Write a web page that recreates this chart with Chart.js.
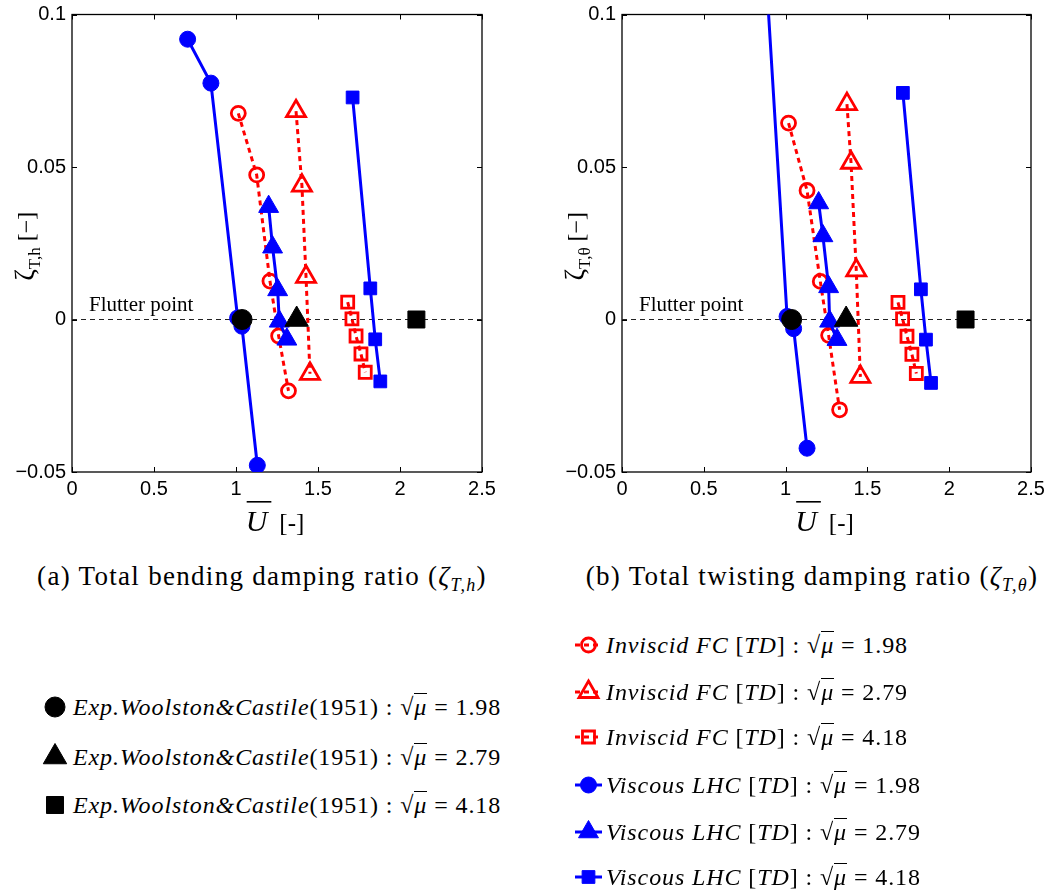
<!DOCTYPE html>
<html><head><meta charset="utf-8">
<script src="https://cdn.jsdelivr.net/npm/chart.js@4.4.1/dist/chart.umd.min.js"></script>
<style>
html,body{margin:0;padding:0;background:#fff;}
#wrap{position:relative;width:1052px;height:896px;overflow:hidden;background:#fff;}
canvas.plot{position:absolute;top:0;}
.cap{position:absolute;font-family:"Liberation Serif",serif;font-size:27px;letter-spacing:1.3px;white-space:nowrap;color:#000;transform:translateX(-50%);line-height:32px;}
.leg{position:absolute;font-family:"Liberation Serif",serif;font-size:24px;white-space:nowrap;color:#000;display:flex;align-items:center;height:26px;}
.leg canvas{display:block;}
.leg .t{margin-left:3px;letter-spacing:0.9px;}
.it{font-style:italic;}
.ov{border-top:1.5px solid #000;padding-top:0px;font-style:italic;}
</style></head>
<body><div id="wrap">
<canvas id="c1" class="plot" width="540" height="540" style="left:0px"></canvas>
<canvas id="c2" class="plot" width="502" height="540" style="left:550px"></canvas>
<div class="cap" style="left:262px;top:560px">(a) Total bending damping ratio (<span class="it">ζ</span><sub style="font-size:18px"><span class="it">T,h</span></sub>)</div>
<div class="cap" style="left:812px;top:560px">(b) Total twisting damping ratio (<span class="it">ζ</span><sub style="font-size:18px"><span class="it">T,θ</span></sub>)</div>
</div>
<script>
// ---------- tick labels ----------
const xTickValues = [0, 0.5, 1, 1.5, 2, 2.5];
const xTickLabels = ['0', '0.5', '1', '1.5', '2', '2.5'];
const yTickValues = [-0.05, 0, 0.05, 0.1];
const yTickLabels = ['\u22120.05', '0', '0.05', '0.1'];

// ---------- flutter reference line ----------
const flutterU = [0, 2.5];
const flutterZ = [0, 0];
const flutterText = 'Flutter point';

// ---------- experiments (Woolston & Castile 1951) ----------
const expU = [1.037, 1.37, 2.1];
const expZ = [0, 0, 0];

// ---------- (a) bending damping ratio ----------
const bendInv198U = [1.014, 1.126, 1.207, 1.26, 1.32];
const bendInv198Z = [0.0676, 0.0474, 0.0126, -0.0054, -0.0234];
const bendInv279U = [1.366, 1.402, 1.427, 1.451];
const bendInv279Z = [0.0683, 0.0439, 0.014, -0.0178];
const bendInv418U = [1.681, 1.707, 1.732, 1.762, 1.788];
const bendInv418Z = [0.0057, 0.0002, -0.0054, -0.0113, -0.0173];
const bendVis198U = [0.705, 0.847, 1.01, 1.036, 1.13];
const bendVis198Z = [0.0919, 0.0775, 0.0005, -0.0022, -0.0478];
const bendVis279U = [1.199, 1.223, 1.254, 1.264, 1.31];
const bendVis279Z = [0.037, 0.0237, 0.0097, -0.0006, -0.0065];
const bendVis418U = [1.711, 1.819, 1.849, 1.88];
const bendVis418Z = [0.0728, 0.0102, -0.0065, -0.0203];

// ---------- (b) twisting damping ratio ----------
const twInv198U = [1.018, 1.131, 1.212, 1.263, 1.33];
const twInv198Z = [0.0644, 0.0423, 0.0125, -0.0052, -0.0296];
const twInv279U = [1.375, 1.40, 1.432, 1.457];
const twInv279Z = [0.0706, 0.0514, 0.0161, -0.0188];
const twInv418U = [1.687, 1.715, 1.742, 1.772, 1.799];
const twInv418Z = [0.0056, 0.0002, -0.0055, -0.0114, -0.0177];
const twVis198U = [0.847, 1.009, 1.049, 1.131];
const twVis198Z = [0.143, 0.001, -0.003, -0.0422];
const twVis279U = [1.202, 1.228, 1.263, 1.269, 1.314];
const twVis279Z = [0.0382, 0.0274, 0.0107, -0.0006, -0.0066];
const twVis418U = [1.717, 1.827, 1.858, 1.889];
const twVis418Z = [0.0743, 0.0099, -0.0066, -0.0208];

// ---------- legend labels ----------
const muLabels = ['1.98', '2.79', '4.18'];

// ---------- styles ----------
const RED = '#ff0000', BLUE = '#0000ff', BLACK = '#000000';
const stInv = [
  {ps: 'circle', r: 7, color: RED, fill: 'rgba(255,255,255,0)', bw: 2.8, line: true, lw: 3, dash: [5, 4]},
  {ps: 'triangle', r: 11, color: RED, fill: 'rgba(255,255,255,0)', bw: 2.8, line: true, lw: 3, dash: [5, 4]},
  {ps: 'rect', r: 8.5, color: RED, fill: 'rgba(255,255,255,0)', bw: 2.8, line: true, lw: 3, dash: [5, 4]}
];
const stVis = [
  {ps: 'circle', r: 8, color: BLUE, fill: BLUE, bw: 1, line: true, lw: 3, dash: []},
  {ps: 'triangle', r: 11.5, color: BLUE, fill: BLUE, bw: 1, line: true, lw: 3, dash: []},
  {ps: 'rect', r: 9, color: BLUE, fill: BLUE, bw: 1, line: true, lw: 3, dash: []}
];
const stExp = [
  {ps: 'circle', r: 10, color: BLACK, fill: BLACK, bw: 1, line: false},
  {ps: 'triangle', r: 13.5, color: BLACK, fill: BLACK, bw: 1, line: false},
  {ps: 'rect', r: 12, color: BLACK, fill: BLACK, bw: 1, line: false}
];

function pts(us, zs) { return us.map((u, i) => ({x: u, y: zs[i]})); }
function ds(us, zs, st, order) {
  return {
    data: pts(us, zs), showLine: st.line, borderColor: st.color, backgroundColor: st.fill,
    borderWidth: st.line ? st.lw : 0, borderDash: st.dash || [],
    pointStyle: st.ps, pointRadius: st.r, pointBorderColor: st.color, pointBackgroundColor: st.fill,
    pointBorderWidth: st.bw, pointHoverRadius: st.r, order: order
  };
}

const TICK_FONT = {family: '"Liberation Sans", Arial, sans-serif', size: 20};
const SERIF = '"Liberation Serif", "Times New Roman", serif';

const framePlugin = {
  id: 'frame',
  beforeDatasetsDraw(chart) {
    const {ctx, chartArea: a} = chart;
    const x = chart.scales.x, y = chart.scales.y;
    ctx.save();
    ctx.strokeStyle = '#000';
    ctx.lineWidth = 1.3;
    ctx.strokeRect(a.left, a.top, a.right - a.left, a.bottom - a.top);
    const tl = 5;
    ctx.beginPath();
    xTickValues.forEach(v => {
      const p = Math.round(x.getPixelForValue(v)) + 0.5;
      ctx.moveTo(p, a.bottom); ctx.lineTo(p, a.bottom - tl);
      ctx.moveTo(p, a.top); ctx.lineTo(p, a.top + tl);
    });
    yTickValues.forEach(v => {
      const p = Math.round(y.getPixelForValue(v)) + 0.5;
      ctx.moveTo(a.left, p); ctx.lineTo(a.left + tl, p);
      ctx.moveTo(a.right, p); ctx.lineTo(a.right - tl, p);
    });
    ctx.lineWidth = 1;
    ctx.stroke();
    ctx.restore();
  },
  afterDraw(chart, args, opts) {
    const {ctx, chartArea: a} = chart;
    const y = chart.scales.y;
    ctx.save();
    ctx.fillStyle = '#000';
    ctx.textAlign = 'left';
    ctx.textBaseline = 'alphabetic';
    // Flutter point label
    ctx.font = '21px ' + SERIF;
    ctx.fillText(flutterText, a.left + 17, y.getPixelForValue(0) - 9);
    // x title: U-bar [-]
    const cx = (a.left + a.right) / 2 - 2;
    const by = 531;
    ctx.font = 'italic 30px ' + SERIF;
    const wU = ctx.measureText('U').width;
    ctx.font = '25px ' + SERIF;
    const wB = ctx.measureText('[-]').width;
    const gap = 12;
    let xx = cx - (wU + gap + wB) / 2;
    ctx.font = 'italic 30px ' + SERIF;
    ctx.fillText('U', xx, by);
    ctx.fillRect(xx + 1, by - 30, wU + 3, 1.6);
    ctx.font = '25px ' + SERIF;
    ctx.fillText('[-]', xx + wU + gap, by);
    // y title
    ctx.translate(34, (a.top + a.bottom) / 2 + 3);
    ctx.rotate(-Math.PI / 2);
    const f1 = '28px ' + SERIF, f2 = '17px ' + SERIF, f3 = '24px ' + SERIF;
    ctx.font = f1; const w1 = ctx.measureText('ζ').width;
    ctx.font = f2; const w2 = ctx.measureText(opts.sub).width;
    ctx.font = f3; const w3 = ctx.measureText(' [\u2212]').width;
    let tx = -(w1 + w2 + w3) / 2;
    ctx.font = f1; ctx.fillText('ζ', tx, 0); tx += w1;
    ctx.font = f2; ctx.fillText(opts.sub, tx, 6); tx += w2;
    ctx.font = f3; ctx.fillText(' [\u2212]', tx, 0);
    ctx.restore();
  }
};

function makeChart(id, sets, sub, padRight) {
  const datasets = [
    ds(sets.inv[0][0], sets.inv[0][1], stInv[0], 3),
    ds(sets.inv[1][0], sets.inv[1][1], stInv[1], 3),
    ds(sets.inv[2][0], sets.inv[2][1], stInv[2], 3),
    ds(sets.vis[0][0], sets.vis[0][1], stVis[0], 2),
    ds(sets.vis[1][0], sets.vis[1][1], stVis[1], 2),
    ds(sets.vis[2][0], sets.vis[2][1], stVis[2], 2),
    ds([expU[0]], [expZ[0]], stExp[0], 0),
    ds([expU[1]], [expZ[1]], stExp[1], 0),
    ds([expU[2]], [expZ[2]], stExp[2], 0),
    {data: pts(flutterU, flutterZ), showLine: true, borderColor: '#222', borderWidth: 1,
     borderDash: [5, 4], pointRadius: 0, pointHoverRadius: 0, order: 10}
  ];
  return new Chart(document.getElementById(id), {
    type: 'scatter',
    data: {datasets},
    options: {
      responsive: false, animation: false, devicePixelRatio: 1,
      events: [],
      layout: {padding: {left: 0, top: 9, right: padRight, bottom: 0}},
      plugins: {legend: {display: false}, tooltip: {enabled: false}, frame: {sub}},
      scales: {
        x: {
          type: 'linear', min: 0, max: 2.5,
          grid: {display: false, drawTicks: false}, border: {display: false},
          afterBuildTicks: s => { s.ticks = xTickValues.map(v => ({value: v})); },
          afterFit: s => { s.height = 68; s.paddingLeft = 0; s.paddingRight = 0; },
          ticks: {autoSkip: false, maxRotation: 0, minRotation: 0, padding: 5, color: '#000', font: TICK_FONT,
                  callback: v => xTickLabels[xTickValues.indexOf(v)]}
        },
        y: {
          type: 'linear', min: -0.05, max: 0.1,
          grid: {display: false, drawTicks: false}, border: {display: false},
          afterBuildTicks: s => { s.ticks = yTickValues.map(v => ({value: v})); },
          afterFit: s => { s.width = 72; s.paddingTop = 0; s.paddingBottom = 0; },
          ticks: {autoSkip: false, padding: 6, color: '#000', font: TICK_FONT,
                  callback: v => yTickLabels[yTickValues.indexOf(v)]}
        }
      }
    },
    plugins: [framePlugin]
  });
}

makeChart('c1', {
  inv: [[bendInv198U, bendInv198Z], [bendInv279U, bendInv279Z], [bendInv418U, bendInv418Z]],
  vis: [[bendVis198U, bendVis198Z], [bendVis279U, bendVis279Z], [bendVis418U, bendVis418Z]]
}, 'T,h', 58);
makeChart('c2', {
  inv: [[twInv198U, twInv198Z], [twInv279U, twInv279Z], [twInv418U, twInv418Z]],
  vis: [[twVis198U, twVis198Z], [twVis279U, twVis279Z], [twVis418U, twVis418Z]]
}, 'T,θ', 21);

// ---------- legends ----------
function drawIcon(cv, st) {
  const ctx = cv.getContext('2d');
  const cy = cv.height / 2, cxm = cv.width / 2;
  if (st.line) {
    ctx.strokeStyle = st.color; ctx.lineWidth = st.lw; ctx.setLineDash(st.dash || []);
    ctx.beginPath(); ctx.moveTo(1, cy); ctx.lineTo(cv.width - 1, cy); ctx.stroke();
    ctx.setLineDash([]);
  }
  ctx.fillStyle = st.fill; ctx.strokeStyle = st.color; ctx.lineWidth = st.bw;
  Chart.helpers.drawPoint(ctx, {pointStyle: st.ps, radius: st.r, borderWidth: st.bw, rotation: 0}, cxm, cy);
}
function sqrtMu() {
  return '<span style="font-style:normal">√</span><span class="ov">μ</span>';
}
function addEntry(parent, left, cy, iconW, st, html) {
  const d = document.createElement('div');
  d.className = 'leg';
  d.style.left = left + 'px';
  d.style.top = (cy - 13) + 'px';
  const cv = document.createElement('canvas');
  cv.width = iconW; cv.height = 30;
  d.appendChild(cv);
  const t = document.createElement('span');
  t.className = 't';
  t.innerHTML = html;
  d.appendChild(t);
  parent.appendChild(d);
  drawIcon(cv, st);
}
const wrap = document.getElementById('wrap');
const leftYs = [707, 757, 805];
muLabels.forEach((m, i) => {
  addEntry(wrap, 40, leftYs[i], 30, stExp[i],
    '<span class="it">Exp.Woolston&amp;Castile</span>(1951) : ' + sqrtMu() + ' = ' + m);
});
const rightYs = [645, 692, 737, 785, 832, 877];
muLabels.forEach((m, i) => {
  addEntry(wrap, 574, rightYs[i], 29, stInv[i],
    '<span class="it">Inviscid FC</span> [<span class="it">TD</span>] : ' + sqrtMu() + ' = ' + m);
});
muLabels.forEach((m, i) => {
  addEntry(wrap, 574, rightYs[i + 3], 29, stVis[i],
    '<span class="it">Viscous LHC</span> [<span class="it">TD</span>] : ' + sqrtMu() + ' = ' + m);
});
</script>
</body></html>
